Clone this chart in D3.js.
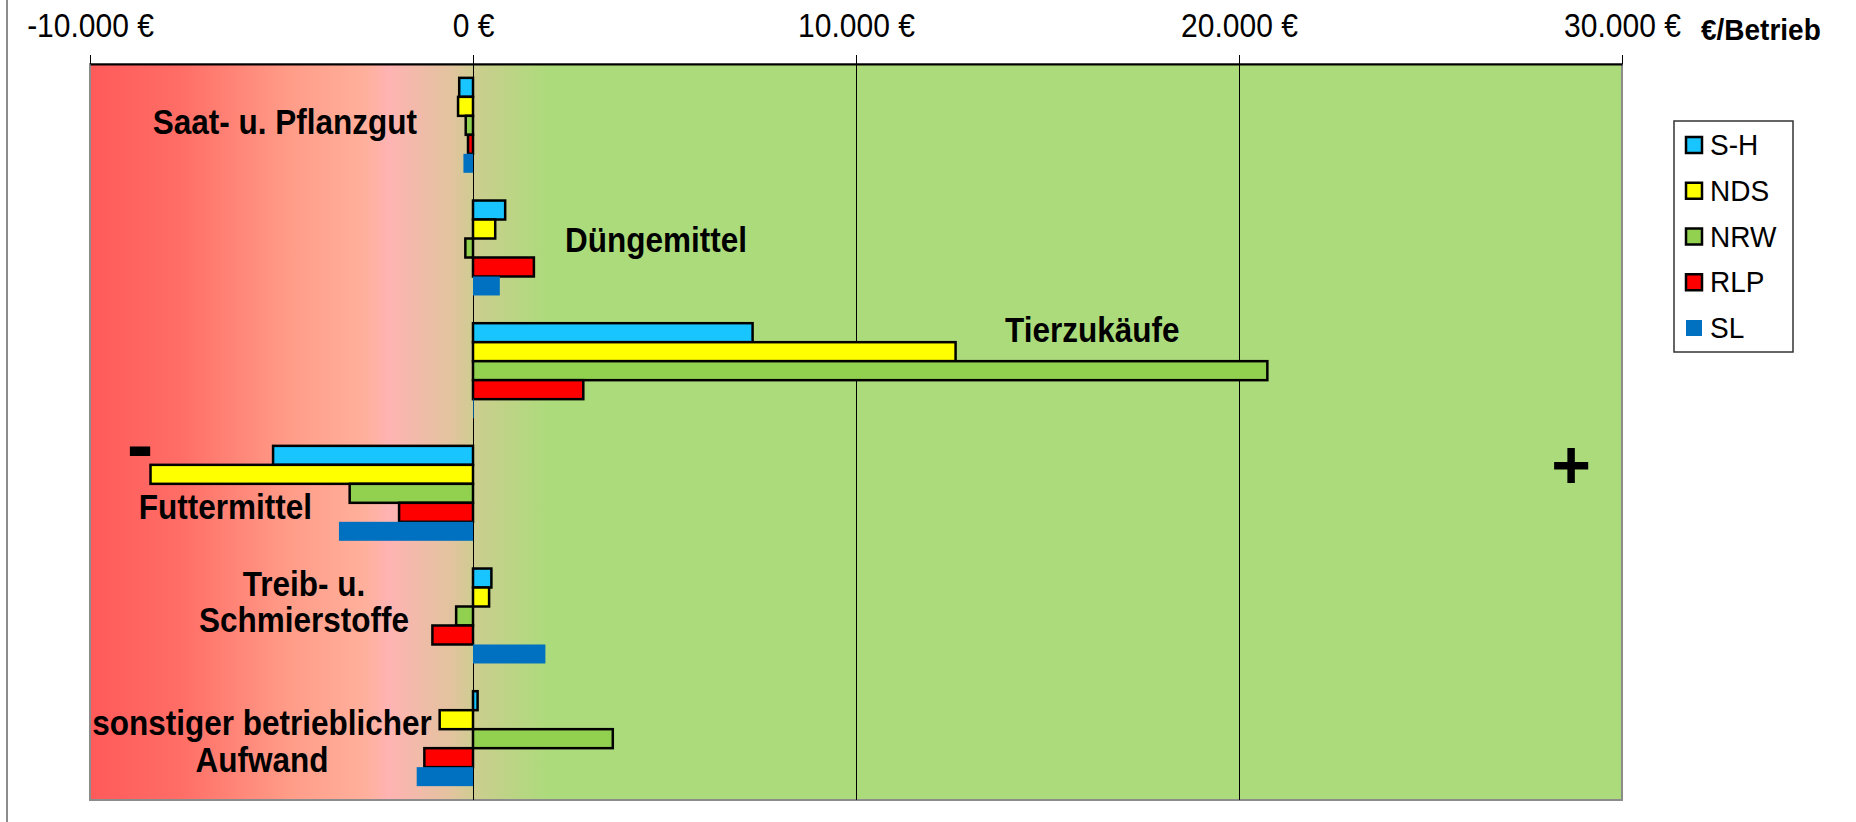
<!DOCTYPE html>
<html>
<head>
<meta charset="utf-8">
<script src="https://cdn.jsdelivr.net/npm/d3@7"></script>
<style>
  body { margin: 0; background: #fff; }
  svg { display: block; font-family: "Liberation Sans", Arial, sans-serif; }
</style>
</head>
<body>
<div id="container"></div>
<script>
// data
const categories = ["Saat- u. Pflanzgut", "Düngemittel", "Tierzukäufe", "Futtermittel", "Treib- u. Schmierstoffe", "sonstiger betrieblicher Aufwand"];
const seriesNames = ["S-H", "NDS", "NRW", "RLP", "SL"];
const valuesSH  = [-360, 840, 7300, -5220, 480, 120];
const valuesNDS = [-390, 580, 12600, -8420, 420, -870];
const valuesNRW = [-190, -200, 20740, -3220, -440, 3650];
const valuesRLP = [-130, 1590, 2880, -1930, -1060, -1270];
const valuesSL  = [-250, 700, 20, -3500, 1890, -1470];
const tickValues = [-10000, 0, 10000, 20000, 30000];
const unitLabel = "€/Betrieb";

const seriesValues = [valuesSH, valuesNDS, valuesNRW, valuesRLP, valuesSL];
const colors = ["#19C5FF", "#FFFF00", "#92D050", "#FF0000", "#0070C0"];
const outlined = [true, true, true, true, false];

const width = 1856;
const height = 822;
const margin = { top: 64, right: 234, bottom: 22, left: 90 };

const svg = d3.select("#container").append("svg")
  .attr("width", width)
  .attr("height", height);

const x = d3.scaleLinear()
  .domain([-10000, 30000])
  .range([margin.left, width - margin.right]);

const y = d3.scaleBand()
  .domain(categories)
  .range([margin.top, height - margin.bottom])
  .paddingInner(0)
  .paddingOuter(0);

const ySeries = d3.scaleBand()
  .domain(seriesNames)
  .range([0, y.bandwidth()])
  .paddingInner(0)
  .paddingOuter(0.73);

// background gradient
const grad = svg.append("defs").append("linearGradient")
  .attr("id", "bg-gradient")
  .attr("x1", 0).attr("x2", 1).attr("y1", 0).attr("y2", 0);

grad.selectAll("stop")
  .data([
    { offset: "0%", color: "#FF5A5A" },
    { offset: "6%", color: "#FF6E66" },
    { offset: "13%", color: "#FF9C88" },
    { offset: "18%", color: "#FFB09C" },
    { offset: "19.5%", color: "#FFB3B3" },
    { offset: "23.5%", color: "#E3C39F" },
    { offset: "25.5%", color: "#C9CF8D" },
    { offset: "30%", color: "#ACDB7B" },
    { offset: "100%", color: "#ACDB7B" }
  ])
  .enter().append("stop")
  .attr("offset", d => d.offset)
  .attr("stop-color", d => d.color);

// left frame line
svg.append("line")
  .attr("x1", 7).attr("x2", 7)
  .attr("y1", 0).attr("y2", height)
  .attr("stroke", "#8c8c8c")
  .attr("stroke-width", 2);

// plot area
svg.append("rect")
  .attr("x", margin.left)
  .attr("y", margin.top)
  .attr("width", x.range()[1] - margin.left)
  .attr("height", height - margin.bottom - margin.top)
  .attr("fill", "url(#bg-gradient)")
  .attr("stroke", "#8c8c8c")
  .attr("stroke-width", 2);

// vertical gridlines
const xGrid = d3.axisBottom(x)
  .tickValues(tickValues.slice(1, -1))
  .tickSize(height - margin.bottom - margin.top)
  .tickFormat("");
svg.append("g")
  .attr("transform", `translate(0,${margin.top})`)
  .call(xGrid)
  .call(g => g.select(".domain").remove())
  .call(g => g.selectAll(".tick line").attr("stroke", "#000").attr("stroke-width", 1));

// bars
seriesNames.forEach((name, si) => {
  svg.append("g")
    .selectAll("rect")
    .data(seriesValues[si])
    .enter().append("rect")
    .attr("x", d => x(Math.min(0, d)))
    .attr("y", (d, i) => y(categories[i]) + ySeries(name))
    .attr("width", d => Math.abs(x(d) - x(0)))
    .attr("height", ySeries.bandwidth())
    .attr("fill", colors[si])
    .attr("stroke", outlined[si] ? "#000" : "none")
    .attr("stroke-width", 2.5);
});

// top axis (German number format, plain hyphen for negatives)
const fmt = v => (v < 0 ? "-" : "") + d3.format(",")(Math.abs(v)).replace(/,/g, ".") + " €";
svg.append("g")
  .attr("transform", `translate(0,${margin.top})`)
  .call(d3.axisTop(x).tickValues(tickValues).tickSize(9).tickSizeOuter(0).tickFormat(fmt))
  .call(g => g.select(".domain").attr("stroke", "#000").attr("stroke-width", 2))
  .call(g => g.selectAll(".tick line").attr("stroke", "#000"))
  .call(g => g.selectAll(".tick text")
    .attr("y", 0)
    .attr("dy", 0)
    .attr("transform", "translate(0,-27) scale(1,1.08)")
    .attr("fill", "#000")
    .style("font-size", "30px")
    .style("font-family", "'Liberation Sans', Arial, sans-serif"));

svg.append("text")
  .attr("transform", "translate(1701,40) scale(1,1.08)")
  .style("font-size", "28px")
  .style("font-weight", "bold")
  .text(unitLabel);

// category labels
const labelLayout = [
  { x: 417, anchor: "end", lines: ["Saat- u. Pflanzgut"], dy: [70] },
  { x: 565, anchor: "start", lines: ["Düngemittel"], dy: [65] },
  { x: 1005, anchor: "start", lines: ["Tierzukäufe"], dy: [33] },
  { x: 312, anchor: "end", lines: ["Futtermittel"], dy: [87] },
  { x: 304, anchor: "middle", lines: ["Treib- u.", "Schmierstoffe"], dy: [41, 77] },
  { x: 262, anchor: "middle", lines: ["sonstiger betrieblicher", "Aufwand"], dy: [58, 95] }
];

labelLayout.forEach((l, i) => {
  l.lines.forEach((line, k) => {
    svg.append("text")
      .attr("transform", `translate(${l.x},${y(categories[i]) + l.dy[k]}) scale(1,1.12)`)
      .attr("text-anchor", l.anchor)
      .style("font-size", "31.5px")
      .style("font-weight", "bold")
      .text(line);
  });
});

// sign markers
svg.append("text")
  .attr("x", 140)
  .attr("y", 472)
  .attr("text-anchor", "middle")
  .style("font-size", "80px")
  .style("font-weight", "bold")
  .text("-");

svg.append("text")
  .attr("x", 1571)
  .attr("y", 488)
  .attr("text-anchor", "middle")
  .style("font-size", "68px")
  .style("font-weight", "bold")
  .text("+");

// legend
const legend = svg.append("g").attr("transform", "translate(1674,121)");
legend.append("rect")
  .attr("width", 119)
  .attr("height", 231)
  .attr("fill", "#fff")
  .attr("stroke", "#333")
  .attr("stroke-width", 1.5);

const legendY = d3.scalePoint()
  .domain(seriesNames)
  .range([24, 207]);

const item = legend.selectAll(".item")
  .data(seriesNames)
  .enter().append("g")
  .attr("transform", d => `translate(0,${legendY(d)})`);

item.append("rect")
  .attr("x", 12)
  .attr("y", -8)
  .attr("width", 16)
  .attr("height", 16)
  .attr("fill", (d, i) => colors[i])
  .attr("stroke", (d, i) => outlined[i] ? "#000" : "none")
  .attr("stroke-width", 2.5);

item.append("text")
  .attr("transform", "translate(36,10) scale(1,1.08)")
  .style("font-size", "28px")
  .text(d => d);
</script>
</body>
</html>
